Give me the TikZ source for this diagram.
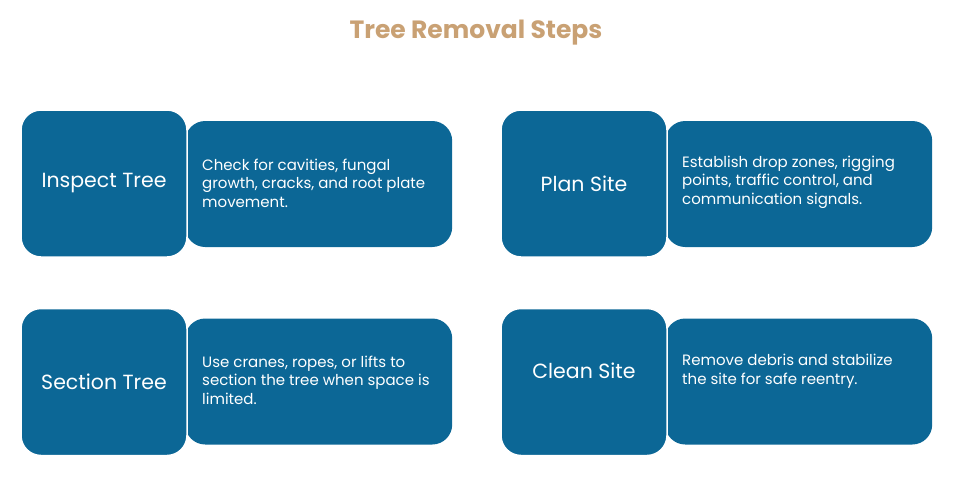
\documentclass[tikz,border=0pt]{standalone}
\usepackage{fontspec}
\setmainfont{Poppins}
\usetikzlibrary{positioning}
\definecolor{stepblue}{RGB}{12,103,150}
\definecolor{titletan}{RGB}{201,161,116}
\tikzstyle{stepbox} = [
    rectangle,
    rounded corners=20pt,
    minimum width=166pt,
    minimum height=147pt,
    fill=stepblue,
    draw=white,
    line width=1.5pt,
    text=white,
    font=\fontsize{20.5}{24}\selectfont
]
\tikzstyle{descbox} = [
    rectangle,
    rounded corners=20pt,
    minimum width=267pt,
    minimum height=126pt,
    fill=stepblue,
    anchor=west
]
\tikzstyle{desctext} = [
    anchor=west,
    align=left,
    inner sep=0pt,
    text=white,
    font=\fontsize{15}{18.5}\selectfont
]

\begin{document}
\begin{tikzpicture}[x=1pt, y=-1pt]
\useasboundingbox (0,0) rectangle (972,480);

\node (title) at (476,33) [text=titletan, font=\fontsize{25}{30}\selectfont\bfseries]
{Tree Removal Steps};

% top row
\node (inspectdesc) [descbox] at (185,184) {};
\node (inspect) [stepbox] at (104,183.5) {Inspect Tree};
\node (inspecttext) [desctext] at (202,183)
{Check for cavities, fungal\\growth, cracks, and root plate\\movement.};

\node (plandesc) [descbox] at (665,184) {};
\node (plan) [stepbox] at (584,183.5) {Plan Site};
\node (plantext) [desctext] at (682,182)
{Establish drop zones, rigging\\points, traffic control, and\\communication signals.};

% bottom row
\node (sectiondesc) [descbox] at (185,381.5) {};
\node (section) [stepbox] at (104,382) {Section Tree};
\node (sectiontext) [desctext] at (202,380)
{Use cranes, ropes, or lifts to\\section the tree when space is\\limited.};

\node (cleandesc) [descbox] at (665,381.5) {};
\node (clean) [stepbox] at (584,382) {};
\node (cleanlabel) [text=white, font=\fontsize{20.5}{24}\selectfont] at (584,371) {Clean Site};
\node (cleantext) [desctext] at (682,371)
{Remove debris and stabilize\\the site for safe reentry.};

\end{tikzpicture}
\end{document}
